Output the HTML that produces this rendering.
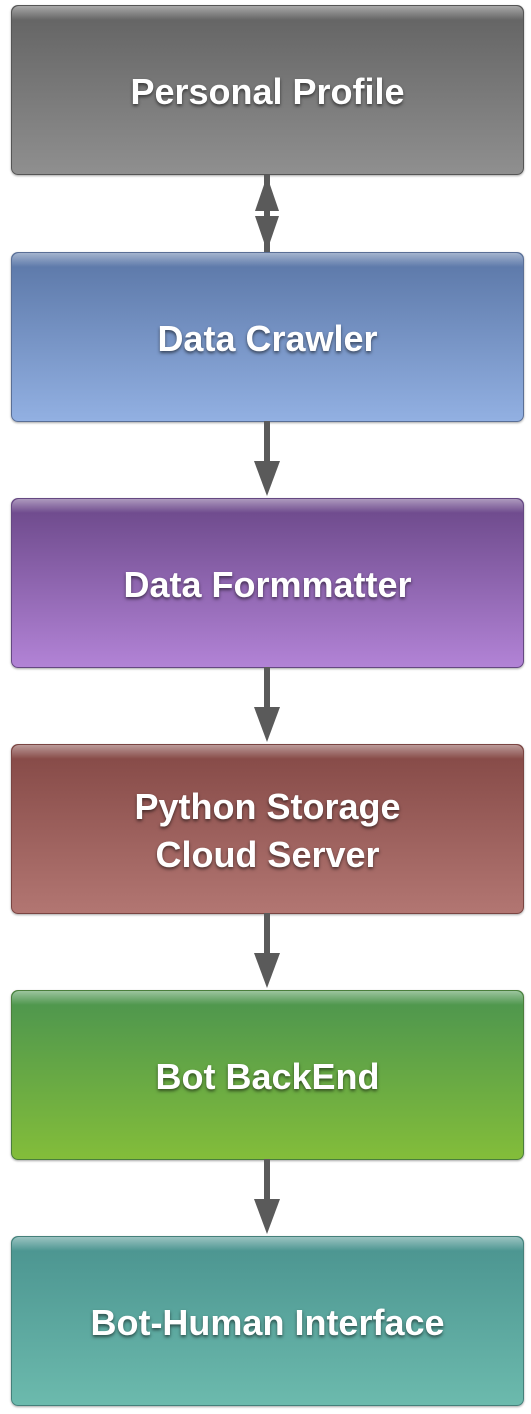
<!DOCTYPE html>
<html><head><meta charset="utf-8"><style>
html,body{margin:0;padding:0;background:#fff;}
body{width:531px;height:1414px;position:relative;overflow:hidden;font-family:"Liberation Sans",Arial,sans-serif;}
.b{position:absolute;left:11px;width:513px;height:170px;border-radius:7px;box-sizing:border-box;display:flex;align-items:center;justify-content:center;text-align:center;color:#fff;font-weight:bold;font-size:36px;line-height:48px;text-shadow:0 2px 3px rgba(0,0,0,.55);box-shadow:0 1px 2px rgba(0,0,0,.35);overflow:hidden;padding-top:3px}
.b::before{content:"";position:absolute;left:0;right:0;top:0;height:14px;background:linear-gradient(rgba(255,255,255,.45),rgba(255,255,255,0));border-radius:7px 7px 0 0}
.b span{position:relative}
svg{position:absolute;left:0;top:0}
</style></head><body>
<div class="b" style="top:5px;background:linear-gradient(#626262,#8f8f8f);border:1px solid #555"><span>Personal Profile</span></div>
<div class="b" style="top:252px;background:linear-gradient(#5a76a6,#92b0e2);border:1px solid #5a6f96"><span>Data Crawler</span></div>
<div class="b" style="top:498px;background:linear-gradient(#6a4788,#b283d6);border:1px solid #654882"><span>Data Formmatter</span></div>
<div class="b" style="top:744px;background:linear-gradient(#844845,#b27672);border:1px solid #7a4542"><span>Python Storage<br>Cloud Server</span></div>
<div class="b" style="top:990px;background:linear-gradient(#4b944f,#83bd3a);border:1px solid #4a7e3c"><span>Bot BackEnd</span></div>
<div class="b" style="top:1236px;background:linear-gradient(#4a938f,#6cbaad);border:1px solid #44807a"><span>Bot-Human Interface</span></div>
<svg width="531" height="1414">
<g fill="#5a5a5a">
<rect x="264" y="175" width="6" height="77"/>
<polygon points="267,176 255,211 279,211"/>
<polygon points="267,251 255,216 279,216"/>
<rect x="264" y="421" width="6" height="45"/><polygon points="254,461 280,461 267,496"/>
<rect x="264" y="667" width="6" height="45"/><polygon points="254,707 280,707 267,742"/>
<rect x="264" y="913" width="6" height="45"/><polygon points="254,953 280,953 267,988"/>
<rect x="264" y="1159" width="6" height="45"/><polygon points="254,1199 280,1199 267,1234"/>
</g>
</svg>
</body></html>
